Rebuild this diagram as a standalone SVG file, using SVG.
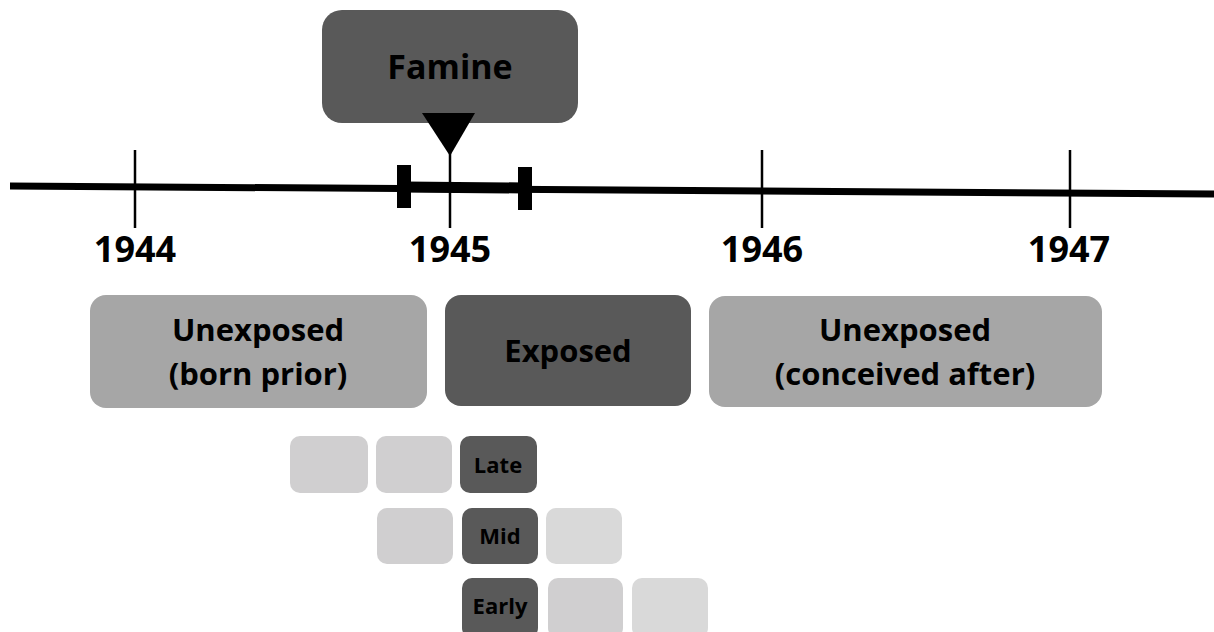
<svg xmlns="http://www.w3.org/2000/svg" width="1214" height="632" viewBox="0 0 1214 632">
<style>
text{font-family:"Open Sans","Liberation Sans",sans-serif;font-weight:bold;fill:#000;text-anchor:middle}
.yr{font-size:36px}
.big{font-size:31px}
.sm{font-size:22px}
.tick{stroke:#000;stroke-width:2.5}
.dark{fill:#595959}
.mid{fill:#a6a6a6}
.l1{fill:#d0cfd0}
.l2{fill:#d9d9d9}
</style>
<rect width="1214" height="632" fill="#fff"/>
<g id="timeline">
<line x1="10" y1="186" x2="1214" y2="194" stroke="#000" stroke-width="7"/>
<line x1="404" y1="187" x2="525" y2="188" stroke="#000" stroke-width="11"/>
<rect x="397" y="165" width="14" height="43" fill="#000"/>
<rect x="518" y="167" width="14" height="43" fill="#000"/>
<line class="tick" x1="135" y1="150" x2="135" y2="228"/>
<line class="tick" x1="450" y1="150" x2="450" y2="228"/>
<line class="tick" x1="762" y1="150" x2="762" y2="228"/>
<line class="tick" x1="1070" y1="150" x2="1070" y2="228"/>
<text class="yr" x="135" y="262">1944</text>
<text class="yr" x="450" y="262">1945</text>
<text class="yr" x="762" y="262">1946</text>
<text class="yr" x="1069" y="262">1947</text>
</g>
<g id="famine">
<rect class="dark" x="322" y="10" width="256" height="113" rx="20"/>
<text x="450" y="79" style="font-size:34px">Famine</text>
<polygon points="422,113 475,113 450,156" fill="#000"/>
</g>
<g id="unexposed-prior">
<rect class="mid" x="90" y="295" width="337" height="113" rx="16"/>
<text class="big" x="258" y="341">Unexposed</text>
<text class="big" x="258" y="385">(born prior)</text>
</g>
<g id="exposed">
<rect class="dark" x="445" y="295" width="246" height="111" rx="16"/>
<text class="big" x="568" y="362">Exposed</text>
</g>
<g id="unexposed-after">
<rect class="mid" x="709" y="296" width="393" height="111" rx="16"/>
<text class="big" x="905" y="341">Unexposed</text>
<text class="big" x="905" y="385">(conceived after)</text>
</g>
<g id="late-row">
<rect class="l1" x="290" y="436" width="78" height="57" rx="10"/>
<rect class="l1" x="376" y="436" width="76" height="57" rx="10"/>
<rect class="dark" x="460" y="436" width="77" height="57" rx="10"/>
<text class="sm" x="498" y="473">Late</text>
</g>
<g id="mid-row">
<rect class="l1" x="377" y="508" width="76" height="56" rx="10"/>
<rect class="dark" x="462" y="508" width="76" height="56" rx="10"/>
<text class="sm" x="500" y="544">Mid</text>
<rect class="l2" x="546" y="508" width="76" height="56" rx="10"/>
</g>
<g id="early-row">
<rect class="dark" x="462" y="578" width="76" height="60" rx="10"/>
<text class="sm" x="500" y="614">Early</text>
<rect class="l1" x="548" y="578" width="75" height="60" rx="10"/>
<rect class="l2" x="632" y="578" width="76" height="60" rx="10"/>
</g>
</svg>
